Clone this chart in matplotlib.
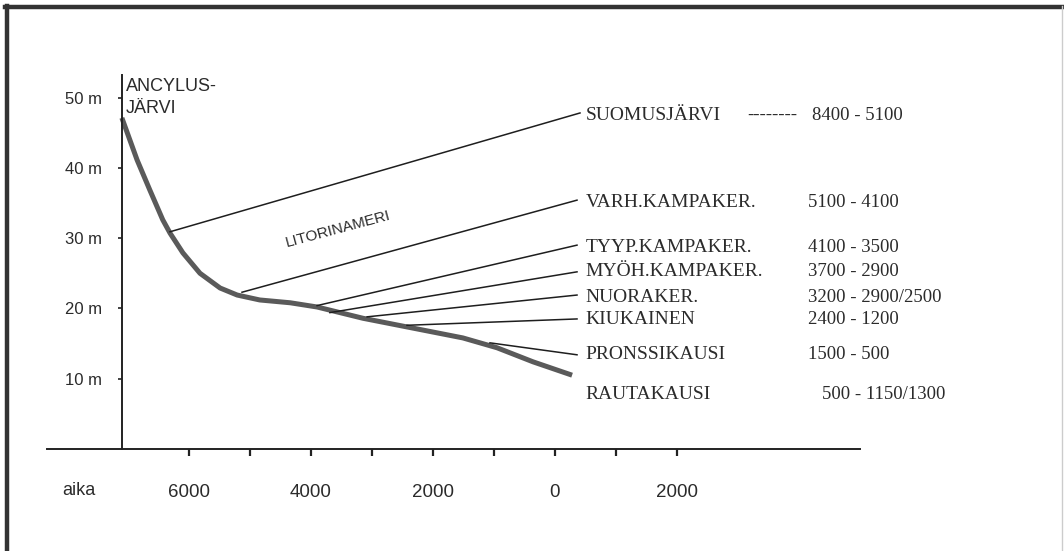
import matplotlib.pyplot as plt
from matplotlib.lines import Line2D

# rantakäyrä (vuosi, korkeus m)
vuodet = [-7100, -6850, -6640, -6430, -6310, -6100, -5820, -5490, -5210,
          -4840, -4340, -3900, -3150, -2330, -1510, -950, -360, 280]
korkeus = [47.1, 41.1, 36.8, 32.6, 30.7, 27.9, 25.0, 22.9, 21.9,
           21.2, 20.8, 20.2, 18.6, 17.2, 15.8, 14.4, 12.4, 10.5]

# kulttuurit ja ajoitukset
kulttuurit = ['SUOMUSJÄRVI', 'VARH.KAMPAKER.', 'TYYP.KAMPAKER.',
              'MYÖH.KAMPAKER.', 'NUORAKER.', 'KIUKAINEN', 'PRONSSIKAUSI',
              'RAUTAKAUSI']
ajoitukset = ['8400 - 5100', '5100 - 4100', '4100 - 3500', '3700 - 2900',
              '3200 - 2900/2500', '2400 - 1200', '1500 - 500', '500 - 1150/1300']
tekstin_korkeus = [47.5, 35.1, 28.6, 25.2, 21.6, 18.35, 13.4, 7.7]

# viivat käyrältä tekstiin
viiva_alku_x = [-6311, -5131, -3900, -3690, -3080, -2426, -1066]
viiva_alku_y = [30.9, 22.3, 20.4, 19.4, 18.8, 17.6, 15.1]
viiva_loppu_x = [410, 361, 361, 361, 361, 361, 361]
viiva_loppu_y = [47.8, 35.4, 29.0, 25.2, 21.9, 18.5, 13.4]

y_tikit = [10, 20, 30, 40, 50]
y_nimet = ['10 m', '20 m', '30 m', '40 m', '50 m']
x_tikit = [-6000, -4000, -2000, 0, 2000]
x_nimet = ['6000', '4000', '2000', '0', '2000']
x_pienet = [-5000, -3000, -1000, 1000]

teksti = '#2b2b2b'

fig = plt.figure(figsize=(10.64, 5.51), dpi=100)
ax = fig.add_axes([0, 0, 1, 1])
ax.set_xlim(-9098, 8344)
ax.set_ylim(-14.51, 63.87)

for s in ['top', 'right']:
    ax.spines[s].set_visible(False)
ax.spines['left'].set_position(('data', -7100))
ax.spines['left'].set_bounds(0, 53.2)
ax.spines['bottom'].set_position(('data', 0))
ax.spines['bottom'].set_bounds(-8330, 5000)
for s in ['left', 'bottom']:
    ax.spines[s].set_linewidth(1.4)
    ax.spines[s].set_color('#222222')

ax.set_yticks(y_tikit)
ax.set_yticklabels(y_nimet, fontfamily='Liberation Sans', fontsize=12)
ax.tick_params(axis='y', direction='out', length=3, width=1.2, pad=11, colors='#222222')
ax.set_xticks(x_tikit)
ax.set_xticklabels(x_nimet, fontfamily='Liberation Sans', fontsize=13.5)
ax.set_xticks(x_pienet, minor=True)
ax.tick_params(axis='x', which='both', direction='out', length=5, width=1.6,
               pad=20, colors='#222222')
for lab in ax.get_xticklabels() + ax.get_yticklabels():
    lab.set_color(teksti)

ax.text(-7800, -4.7, 'aika', fontfamily='Liberation Sans', fontsize=13,
        color=teksti, ha='center', va='top')

# käyrä
ax.plot(vuodet, korkeus, color='#5a5a5a', lw=3.6, solid_capstyle='butt',
        solid_joinstyle='round')

# viivat
for x0, y0, x1, y1 in zip(viiva_alku_x, viiva_alku_y, viiva_loppu_x, viiva_loppu_y):
    ax.plot([x0, x1], [y0, y1], color='#1e1e1e', lw=1.1)

for nimi, aika, y in zip(kulttuurit, ajoitukset, tekstin_korkeus):
    ax.text(500, y, nimi, fontfamily='Liberation Serif', fontsize=14,
            color=teksti, ha='left', va='center')
    x_aika = 4150
    if nimi == 'RAUTAKAUSI':
        x_aika = 4380
    if nimi == 'SUOMUSJÄRVI':
        x_aika = 4210
    ax.text(x_aika, y, aika, fontfamily='Liberation Serif', fontsize=13.5,
            color=teksti, ha='left', va='center')
ax.text(3150, tekstin_korkeus[0], '--------', fontfamily='Liberation Serif',
        fontsize=13.5, color=teksti, ha='left', va='center')

ax.text(-7030, 51.6, 'ANCYLUS-', fontfamily='Liberation Sans', fontsize=13,
        color=teksti, ha='left', va='center')
ax.text(-7030, 48.5, 'JÄRVI', fontfamily='Liberation Sans', fontsize=13,
        color=teksti, ha='left', va='center')
ax.text(-3557, 31.3, 'LITORINAMERI', fontfamily='Liberation Sans', fontsize=11,
        color=teksti, ha='center', va='center', rotation=15)

# kehys
fig.add_artist(Line2D([0.005, 1.0], [0.987, 0.987], color='#333333', lw=3.2))
fig.add_artist(Line2D([0.0065, 0.0065], [0.0, 0.99], color='#333333', lw=3.2))
fig.add_artist(Line2D([0.998, 0.998], [0.0, 0.99], color='#cccccc', lw=1))

fig.savefig('out.png', dpi=100)
